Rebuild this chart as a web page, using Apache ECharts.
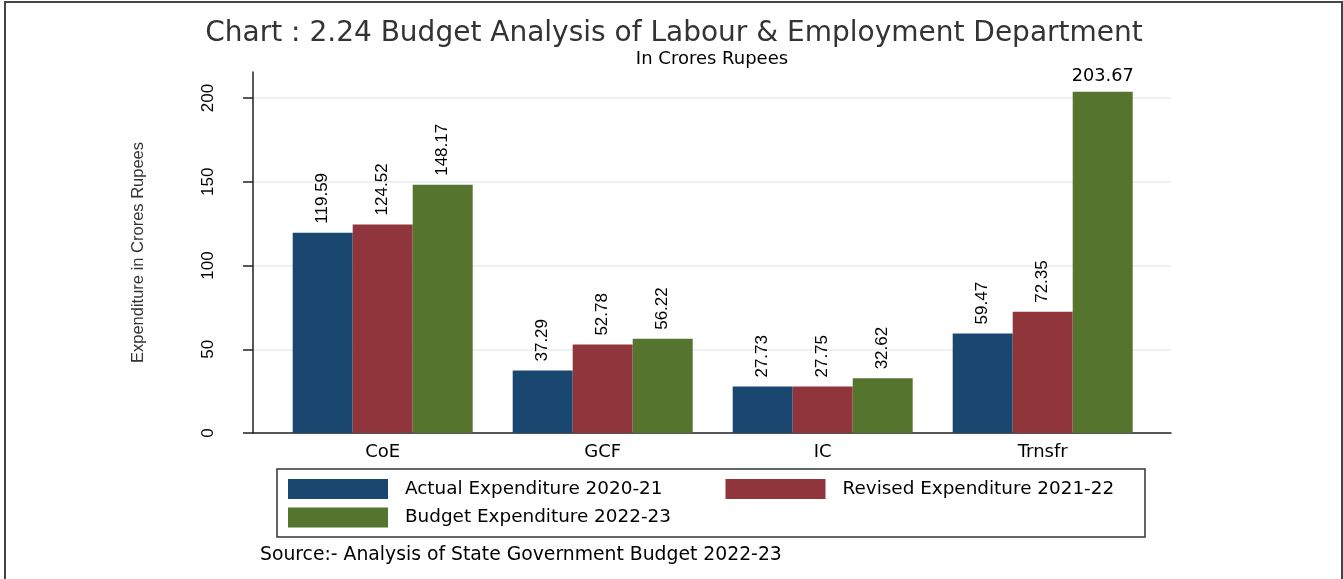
<!DOCTYPE html>
<html>
<head>
<meta charset="utf-8">
<script src="https://cdn.jsdelivr.net/npm/echarts@6/dist/echarts.min.js"></script>
<style>
html,body{margin:0;padding:0;background:#fff;}
#chart{width:1343px;height:579px;}
</style>
</head>
<body>
<div id="chart"></div>
<script>
const categories = ['CoE', 'GCF', 'IC', 'Trnsfr'];
const seriesNames = ['Actual Expenditure 2020-21', 'Revised Expenditure 2021-22', 'Budget Expenditure 2022-23'];
const actual = [119.59, 37.29, 27.73, 59.47];
const revised = [124.52, 52.78, 27.75, 72.35];
const budget = [148.17, 56.22, 32.62, 203.67];
const yTicks = [0, 50, 100, 150, 200];

const colors = ['#1a476f', '#90353b', '#55752f'];
const hFont = 'DejaVu Sans';
const rFont = 'Liberation Sans';
const yMax = 215.5;

const rotLabel = {
  show: true, position: 'top', rotate: 90, align: 'left', verticalAlign: 'middle',
  distance: 9, fontFamily: rFont, fontSize: 17, color: '#000',
  formatter: p => p.value.toFixed(2)
};

function makeData(arr) {
  return arr.map(v => ({ value: v }));
}
const budgetData = makeData(budget);
// tallest bar label is drawn horizontally in the reference
budgetData[3].label = { rotate: 0, align: 'center', verticalAlign: 'bottom', distance: 6, fontFamily: hFont, fontSize: 17.7 };

const chart = echarts.init(document.getElementById('chart'), null, { renderer: 'canvas' });

function legendItem(name, left, top) {
  return {
    data: [name], left: left, top: top, orient: 'horizontal', padding: 0,
    itemWidth: 100, itemHeight: 20, icon: 'rect', selectedMode: false,
    itemStyle: { borderWidth: 0 },
    textStyle: { fontFamily: hFont, fontSize: 18.4, color: '#000', padding: [0, 0, 0, 12] }
  };
}

chart.setOption({
  animation: false,
  backgroundColor: '#fff',
  color: colors,
  grid: [
    { left: 272.7, width: 880, top: 72, height: 361 },
    { left: 253, width: 918, top: 72, height: 361 },
    { left: 253, width: 918, top: 98, height: 335 }
  ],
  xAxis: [
    { gridIndex: 0, type: 'category', data: categories,
      axisLine: { show: false }, axisTick: { show: false },
      axisLabel: { margin: 10, fontFamily: hFont, fontSize: 18, color: '#000' } },
    { gridIndex: 1, type: 'value', min: 0, max: 1,
      axisLine: { show: true, lineStyle: { color: '#222', width: 1.5 } },
      axisTick: { show: false }, axisLabel: { show: false }, splitLine: { show: false } },
    { gridIndex: 2, type: 'value', min: 0, max: 1, show: false }
  ],
  yAxis: [
    { gridIndex: 0, type: 'value', min: 0, max: yMax, show: false },
    { gridIndex: 1, type: 'value', min: 0, max: yMax,
      axisLine: { show: true, lineStyle: { color: '#222', width: 1.5 } },
      axisTick: { show: false }, axisLabel: { show: false }, splitLine: { show: false },
      name: 'Expenditure in Crores Rupees', nameLocation: 'middle', nameGap: 106, nameRotate: 90,
      nameTextStyle: { fontFamily: rFont, fontSize: 16.5, color: '#333' } },
    { gridIndex: 2, type: 'value', min: yTicks[0], max: yTicks[yTicks.length - 1], interval: 50,
      axisLine: { show: false },
      axisTick: { show: true, inside: false, length: 10, lineStyle: { color: '#222', width: 1.5 } },
      axisLabel: { rotate: 90, margin: 36, fontFamily: rFont, fontSize: 17, color: '#000' },
      splitLine: { show: true, lineStyle: { color: '#e4edf2', width: 1.5 } } }
  ],
  legend: [
    legendItem(seriesNames[0], 288, 479),
    legendItem(seriesNames[1], 725.5, 479),
    legendItem(seriesNames[2], 288, 507.5)
  ],
  series: [
    { name: seriesNames[0], type: 'bar', xAxisIndex: 0, yAxisIndex: 0, data: makeData(actual),
      barGap: '0%', barCategoryGap: '18.18%', label: rotLabel, itemStyle: { color: colors[0] } },
    { name: seriesNames[1], type: 'bar', xAxisIndex: 0, yAxisIndex: 0, data: makeData(revised),
      barGap: '0%', barCategoryGap: '18.18%', label: rotLabel, itemStyle: { color: colors[1] } },
    { name: seriesNames[2], type: 'bar', xAxisIndex: 0, yAxisIndex: 0, data: budgetData,
      barGap: '0%', barCategoryGap: '18.18%', label: rotLabel, itemStyle: { color: colors[2] } }
  ],
  graphic: [
    { type: 'rect', shape: { x: 5, y: 2, width: 1337, height: 640 }, silent: true,
      style: { fill: 'none', stroke: '#444', lineWidth: 2 }, z: 100 },
    { type: 'rect', shape: { x: 277, y: 469, width: 868, height: 68 }, silent: true,
      style: { fill: 'none', stroke: '#333', lineWidth: 1.5 }, z: 100 },
    { type: 'text', x: 674, y: 34, silent: true,
      style: { text: 'Chart : 2.24 Budget Analysis of Labour & Employment Department',
        align: 'center', verticalAlign: 'middle', fontFamily: hFont, fontSize: 28, fill: '#333' } },
    { type: 'text', x: 712, y: 59, silent: true,
      style: { text: 'In Crores Rupees', align: 'center', verticalAlign: 'middle',
        fontFamily: hFont, fontSize: 18, fill: '#000' } },
    { type: 'text', x: 260, y: 555, silent: true,
      style: { text: 'Source:- Analysis of State Government Budget 2022-23', align: 'left', verticalAlign: 'middle',
        fontFamily: hFont, fontSize: 18.8, fill: '#000' } }
  ]
});
</script>
</body>
</html>
